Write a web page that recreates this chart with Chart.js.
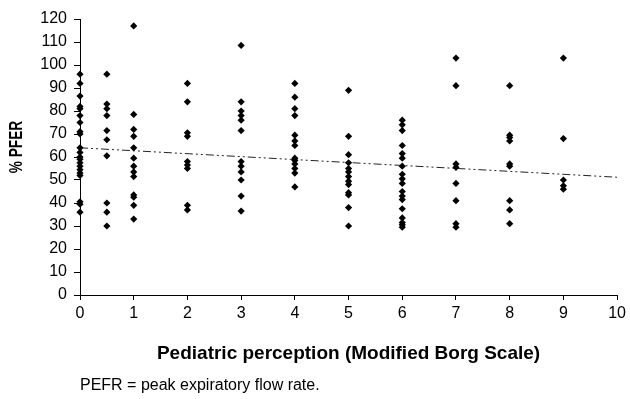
<!DOCTYPE html>
<html>
<head>
<meta charset="utf-8">
<script src="https://cdn.jsdelivr.net/npm/chart.js@4/dist/chart.umd.min.js"></script>
<style>
  html, body { margin: 0; padding: 0; background: #fff; }
  #wrap { position: relative; width: 630px; height: 399px; }
  #note { position: absolute; left: 80px; top: 376px; font-family: "Liberation Sans", Arial, sans-serif; font-size: 16px; color: #000; white-space: nowrap; }
</style>
</head>
<body>
<div id="wrap">
  <canvas id="c" width="630" height="399"></canvas>
  <div id="note">PEFR = peak expiratory flow rate.</div>
</div>
<script>
// Borg scale groups and %PEFR values
const borg0   = [96, 92, 86.5, 82, 81, 78, 75, 71, 70, 64, 62, 60, 59, 57.5, 56, 54.5, 53, 52, 40.5, 39.5, 36];
const borg05  = [96, 83, 81, 78, 71.5, 67.5, 60.5, 40, 36, 30];
const borg1   = [117, 78.5, 72, 69, 64, 59.5, 56, 53.5, 51.5, 43.5, 42.5, 39, 33];
const borg2   = [92, 84, 70.5, 69, 58, 56.5, 55, 39, 37];
const borg3   = [108.5, 84, 80, 78, 76, 71.5, 58, 56, 53.5, 50, 43, 36.5];
const borg4   = [92, 86, 81, 78, 69.5, 67, 65, 59.5, 58.5, 57, 55, 53, 47];
const borg5   = [89, 69, 61, 57.5, 55, 53.5, 51.5, 49.5, 48, 44.5, 43.5, 38, 30];
const borg6   = [76, 74, 71.5, 65, 61.5, 59.5, 56, 52.5, 50.5, 48.5, 45, 43, 41.5, 37.5, 33.5, 31.5, 30.5, 29.5];
const borg7   = [103, 91, 57, 55.5, 48.5, 41, 31, 29.5];
const borg8   = [91, 69.5, 68.5, 67, 57, 56, 41, 37, 31];
const borg9   = [103, 68, 50, 47.5, 46];
const groupX  = [0, 0.5, 1, 2, 3, 4, 5, 6, 7, 8, 9];
const groupY  = [borg0, borg05, borg1, borg2, borg3, borg4, borg5, borg6, borg7, borg8, borg9];
// Linear trend line end points
const trendX  = [0, 10];
const trendY  = [64, 51.2];
const xTicks  = [0, 1, 2, 3, 4, 5, 6, 7, 8, 9, 10];
const yTicks  = [0, 10, 20, 30, 40, 50, 60, 70, 80, 90, 100, 110, 120];
const yTitle  = '% PFER';
const xTitle  = 'Pediatric perception (Modified Borg Scale)';

const points = [];
groupX.forEach((gx, i) => groupY[i].forEach(v => points.push({x: gx, y: v})));
const trend = trendX.map((x, i) => ({x: x, y: trendY[i]}));

const FONT = "'Liberation Sans', Arial, sans-serif";

const yTitlePlugin = {
  id: 'yTitlePlugin',
  afterDraw(chart) {
    const ctx = chart.ctx;
    ctx.save();
    ctx.translate(17.5, 147);
    ctx.rotate(-Math.PI / 2);
    ctx.scale(0.76, 1);
    ctx.font = "bold 18px " + FONT;
    ctx.fillStyle = '#000';
    ctx.textAlign = 'center';
    ctx.textBaseline = 'middle';
    ctx.fillText(yTitle, 0, 0);
    ctx.restore();
  }
};

new Chart(document.getElementById('c'), {
  type: 'scatter',
  data: {
    datasets: [
      {
        data: points,
        pointStyle: 'rectRot',
        pointRadius: 3.6,
        pointHoverRadius: 3.6,
        backgroundColor: '#000',
        borderColor: '#000',
        borderWidth: 0,
        clip: false,
        order: 1
      },
      {
        type: 'line',
        data: trend,
        borderColor: '#222',
        borderWidth: 1,
        borderDash: [8, 3, 2, 3, 2, 3],
        pointRadius: 0,
        fill: false,
        order: 2
      }
    ]
  },
  plugins: [yTitlePlugin],
  options: {
    responsive: false,
    animation: false,
    events: [],
    layout: { padding: { top: 19, right: 10, bottom: 0, left: 0 } },
    plugins: { legend: { display: false }, tooltip: { enabled: false } },
    scales: {
      x: {
        type: 'linear',
        min: 0, max: 10,
        afterBuildTicks: s => { s.ticks = xTicks.map(v => ({value: v})); },
        afterFit: s => { s.height = 104; },
        ticks: { color: '#000', font: { family: FONT, size: 16 }, padding: 4, maxRotation: 0, autoSkip: false },
        grid: { drawOnChartArea: false, drawTicks: true, tickLength: 5, tickColor: '#000', lineWidth: 1 },
        border: { display: true, color: '#000', width: 1 },
        title: { display: true, text: xTitle, color: '#000',
                 font: { family: FONT, size: 19, weight: 'bold' }, padding: { top: 0, bottom: 34 } }
      },
      y: {
        type: 'linear',
        min: 0, max: 120,
        afterBuildTicks: s => { s.ticks = yTicks.map(v => ({value: v})); },
        afterFit: s => { s.width = 80; },
        ticks: { color: '#000', font: { family: FONT, size: 16 }, padding: 7, autoSkip: false },
        grid: { drawOnChartArea: false, drawTicks: true, tickLength: 6, tickColor: '#000', lineWidth: 1 },
        border: { display: true, color: '#000', width: 1 },
        title: { display: false }
      }
    }
  }
});
</script>
</body>
</html>
